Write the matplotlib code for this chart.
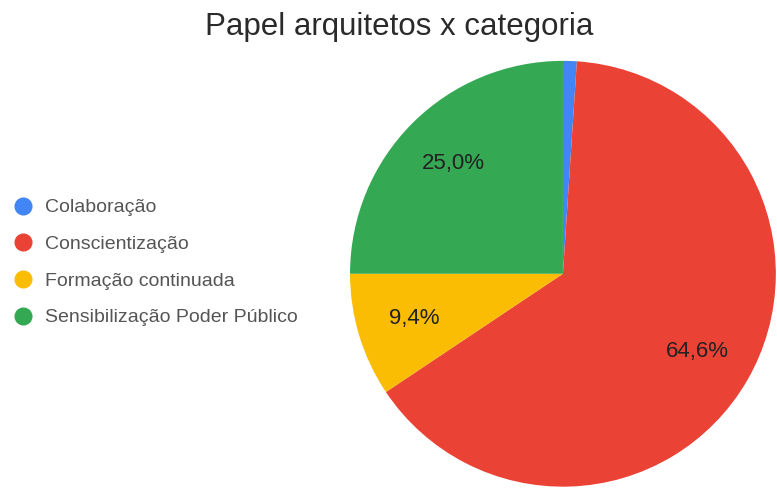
import matplotlib
matplotlib.use("Agg")
import matplotlib.pyplot as plt
from matplotlib.lines import Line2D

# dados
categorias = ['Colaboração', 'Conscientização', 'Formação continuada',
              'Sensibilização Poder Público']
contagens = [1, 62, 9, 24]
cores = ['#4285f4', '#ea4335', '#fbbc04', '#34a853']

plt.rcParams['font.family'] = ['Liberation Sans', 'DejaVu Sans']

fig = plt.figure(figsize=(7.77, 4.88), dpi=100)
ax = fig.add_axes([0.4505, 0.0025, 0.548, 0.873])

def fmt(p):
    if p < 5:
        return ''
    return ('%.1f%%' % p).replace('.', ',')

wedges, textos, pcts = ax.pie(contagens, colors=cores, startangle=90,
                              counterclock=False, autopct=fmt,
                              pctdistance=0.73, radius=1.0,
                              wedgeprops=dict(linewidth=0))
for t in pcts:
    t.set_fontsize(16)
    t.set_color('#222222')
ax.set_xlim(-1, 1)
ax.set_ylim(-1, 1)
ax.set_aspect('equal')

fig.text(0.514, 0.928, 'Papel arquitetos x categoria', ha='center',
         va='baseline', fontsize=22.5, color='#2a2a2a')

handles = [Line2D([], [], marker='o', linestyle='', markersize=12,
                  markerfacecolor=c, markeredgecolor=c) for c in cores]
leg = fig.legend(handles, categorias, loc='center left',
                 bbox_to_anchor=(0.0, 0.462), frameon=False, fontsize=14,
                 handletextpad=0.5, labelspacing=0.98, handlelength=1.2,
                 borderaxespad=0.2)
for t in leg.get_texts():
    t.set_color('#555555')

fig.savefig('out.png', dpi=100)
